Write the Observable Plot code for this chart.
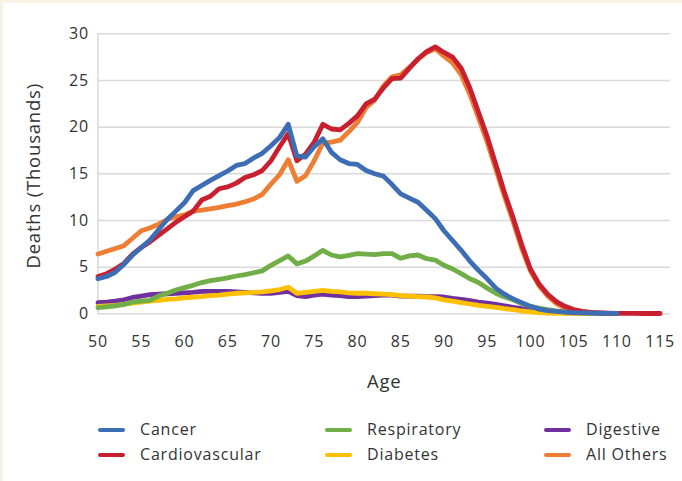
<!DOCTYPE html>
<html><head><meta charset="utf-8">
<script src="https://cdn.jsdelivr.net/npm/d3@7"></script>
<script src="https://cdn.jsdelivr.net/npm/@observablehq/plot@0.6"></script>
<style>
html,body{margin:0;padding:0;background:#f7f2e3;width:682px;height:481px;overflow:hidden;}
#panel{position:absolute;left:3px;top:3px;width:679px;height:478px;background:#fff;font-family:"Open Sans",sans-serif;color:#333;}
#chart{position:absolute;left:0;top:0;}
.item{position:absolute;height:20px;line-height:20px;font-size:16px;letter-spacing:0.8px;color:#333;white-space:nowrap;}
.sw{position:absolute;width:27px;height:4.5px;border-radius:2px;}
</style></head><body><div id="panel"><div id="chart"></div><div id="legend"></div></div>
<script>
const ages = d3.range(50, 116);
const xTicks = [50,55,60,65,70,75,80,85,90,95,100,105,110,115];
const yTicks = [0,5,10,15,20,25,30];
const seriesNames = ["Cancer","Cardiovascular","Respiratory","Diabetes","Digestive","All Others"];
const seriesColors = ["#3d6eb5","#c8202e","#72ae47","#ffc000","#7030a0","#ee7e33"];

const cancer = [3.75,4.0,4.45,5.3,6.3,7.1,7.9,9.0,10.1,11.0,11.9,13.2,13.75,14.3,14.8,15.3,15.9,16.1,16.7,17.2,18.0,18.9,20.3,16.9,16.8,17.9,18.75,17.3,16.5,16.1,16.0,15.35,15.0,14.75,13.85,12.85,12.4,11.95,11.1,10.2,8.9,7.85,6.8,5.65,4.65,3.75,2.75,2.1,1.6,1.2,0.8,0.5,0.35,0.25,0.18,0.12,0.1,0.08,0.06,0.05,0.04];
const cardio = [4.0,4.3,4.8,5.4,6.4,7.1,7.7,8.4,9.1,9.8,10.4,11.0,12.2,12.6,13.4,13.6,14.0,14.6,14.9,15.35,16.4,17.9,19.3,16.4,17.1,18.4,20.3,19.8,19.7,20.4,21.2,22.5,23.0,24.2,25.2,25.25,26.3,27.3,28.1,28.6,28.0,27.5,26.3,24.2,21.6,19.0,16.0,13.0,10.3,7.4,4.8,3.2,2.1,1.3,0.8,0.45,0.25,0.15,0.1,0.07,0.05,0.04,0.04,0.03,0.03,0.03];
const respiratory = [0.65,0.75,0.85,1.0,1.25,1.35,1.45,1.9,2.2,2.55,2.8,3.05,3.35,3.55,3.7,3.85,4.05,4.2,4.4,4.6,5.2,5.7,6.2,5.35,5.65,6.2,6.8,6.3,6.1,6.25,6.45,6.4,6.35,6.45,6.45,5.95,6.2,6.3,5.9,5.75,5.2,4.8,4.3,3.75,3.35,2.75,2.2,1.8,1.5,1.1,0.8,0.6,0.45,0.3,0.2,0.15,0.1,0.08,0.06,0.05,0.04];
const diabetes = [0.8,0.85,0.9,1.0,1.15,1.25,1.35,1.45,1.55,1.6,1.7,1.8,1.85,1.95,2.0,2.1,2.2,2.25,2.3,2.35,2.45,2.6,2.85,2.2,2.3,2.4,2.5,2.4,2.35,2.25,2.2,2.2,2.15,2.1,2.05,1.95,1.9,1.85,1.8,1.7,1.5,1.35,1.2,1.05,0.9,0.8,0.7,0.55,0.45,0.3,0.2,0.12,0.08,0.06,0.05,0.04,0.03,0.03,0.03,0.03,0.03];
const digestive = [1.2,1.25,1.35,1.5,1.75,1.9,2.05,2.1,2.15,2.2,2.25,2.3,2.4,2.4,2.4,2.4,2.35,2.3,2.25,2.2,2.2,2.3,2.4,1.95,1.85,2.0,2.1,2.0,1.95,1.85,1.85,1.9,1.95,2.0,2.0,1.9,1.9,1.9,1.85,1.85,1.8,1.65,1.55,1.4,1.25,1.15,1.0,0.85,0.7,0.55,0.45,0.35,0.25,0.15,0.1,0.07,0.05,0.04,0.04,0.04,0.04];
const allOthers = [6.4,6.7,7.0,7.3,8.1,8.9,9.2,9.6,10.1,10.4,10.6,11.0,11.1,11.25,11.4,11.6,11.75,12.0,12.3,12.8,13.9,14.9,16.5,14.2,14.8,16.4,18.3,18.4,18.6,19.5,20.5,22.1,22.9,24.4,25.4,25.6,26.4,27.3,28.0,28.4,27.6,26.9,25.6,23.5,21.0,18.4,15.5,12.6,9.9,7.0,4.6,3.0,1.9,1.1,0.6,0.35,0.2,0.12,0.08,0.05,0.04];

const seriesValues = [cancer, cardio, respiratory, diabetes, digestive, allOthers];
const rows = seriesNames.map((name, i) => seriesValues[i].map((v, j) => ({series: name, age: ages[j], value: v})));
const byName = Object.fromEntries(seriesNames.map((n, i) => [n, rows[i]]));
const drawOrder = ["Digestive","Diabetes","Respiratory","All Others","Cardiovascular","Cancer"];

const font = '"Open Sans", sans-serif';
const chart = Plot.plot({
  width: 679, height: 400,
  marginLeft: 94.5, marginRight: 12, marginTop: 30.3, marginBottom: 89.7,
  x: {domain: [50, 116.2]},
  y: {domain: [0, 30]},
  color: {domain: seriesNames, range: seriesColors},
  style: {fontFamily: font, fontSize: "16px", color: "#333", background: "transparent", letterSpacing: "0.8px"},
  marks: [
    Plot.gridY(yTicks, {stroke: "#d9d9d9", strokeOpacity: 1, strokeWidth: 1.5}),
    Plot.ruleX([xTicks[0]], {stroke: "#d9d9d9", strokeWidth: 1.5}),
    Plot.axisY(yTicks, {tickSize: 0, tickPadding: 9, label: null, fontSize: 16}),
    Plot.axisX(xTicks, {tickSize: 0, tickPadding: 22, label: null, fontSize: 16}),
    ...drawOrder.map(n => Plot.lineY(byName[n], {x: "age", y: "value", stroke: "series", strokeWidth: 4.8, strokeLinejoin: "round", strokeLinecap: "round"})),
    Plot.text(["Deaths (Thousands)"], {frameAnchor: "left", textAnchor: "middle", text: d => d, rotate: -90, dx: -64, dy: 2, fontSize: 18.5, letterSpacing: "1.1px", fill: "#333"}),
    Plot.text(["Age"], {frameAnchor: "bottom", text: d => d, dy: 74, fontSize: 18.5, letterSpacing: "1.1px", fill: "#333"})
  ]
});
document.getElementById("chart").appendChild(chart);

// legend
const legendPos = [
  {name: "Cancer", x: 95, y: 427},
  {name: "Respiratory", x: 322, y: 427},
  {name: "Digestive", x: 541, y: 427},
  {name: "Cardiovascular", x: 95, y: 452},
  {name: "Diabetes", x: 322, y: 452},
  {name: "All Others", x: 541, y: 452}
];
const leg = document.getElementById("legend");
legendPos.forEach(p => {
  const color = seriesColors[seriesNames.indexOf(p.name)];
  const sw = document.createElement("div");
  sw.className = "sw";
  sw.style.left = p.x + "px"; sw.style.top = (p.y - 2.25) + "px"; sw.style.background = color;
  leg.appendChild(sw);
  const t = document.createElement("div");
  t.className = "item";
  t.style.left = (p.x + 42) + "px"; t.style.top = (p.y - 11) + "px";
  t.textContent = p.name;
  leg.appendChild(t);
});
</script></body></html>
